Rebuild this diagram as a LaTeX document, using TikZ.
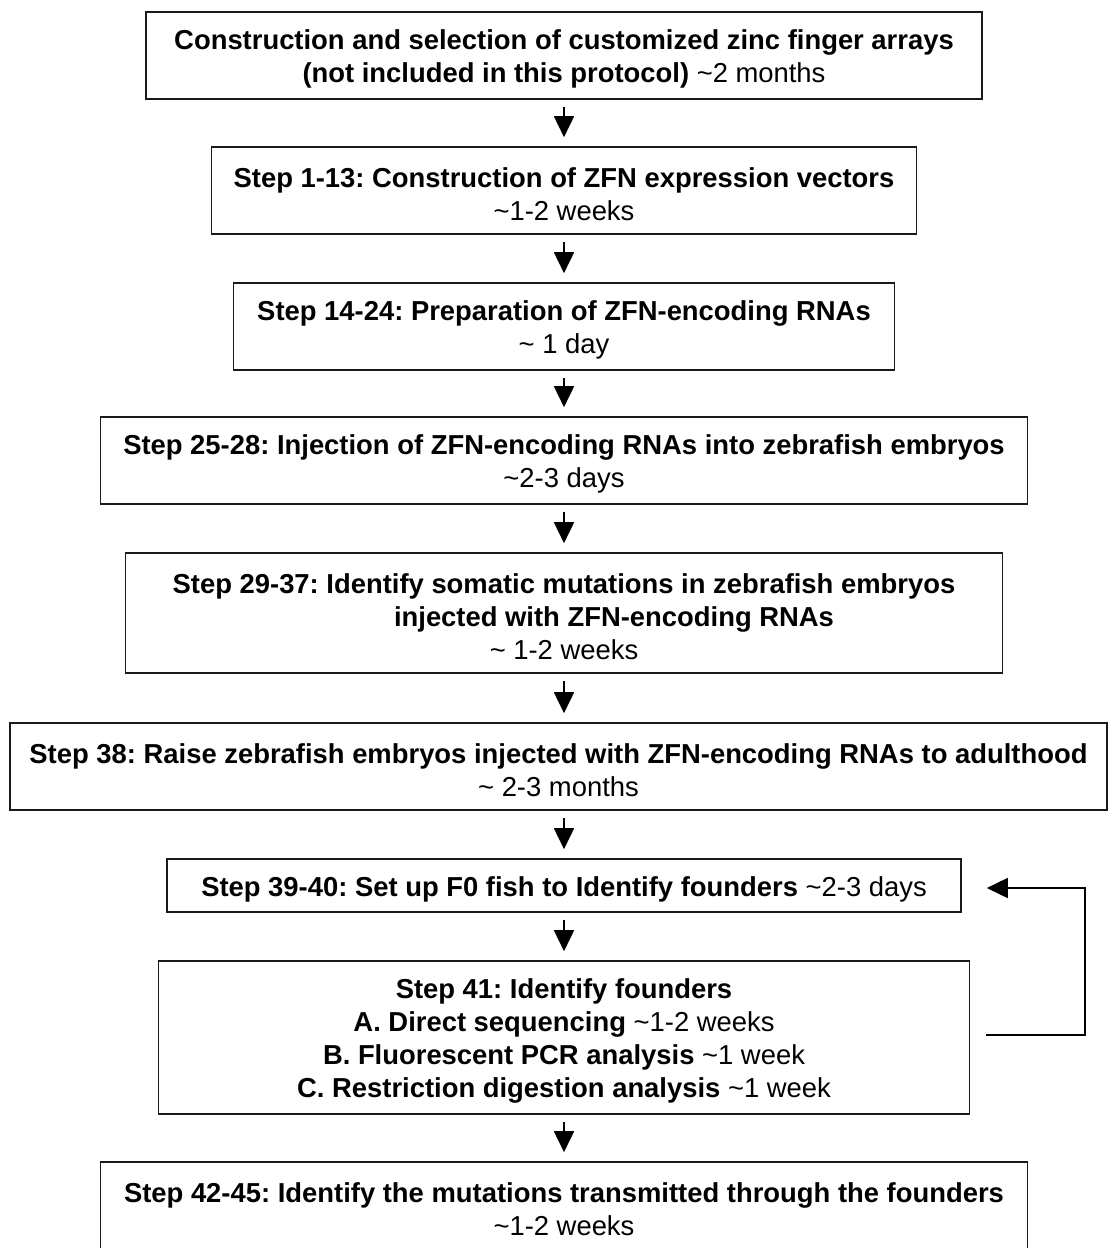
\documentclass[tikz,border=0pt]{standalone}
\usepackage{fontspec}
\setmainfont{Liberation Sans}
\usetikzlibrary{arrows.meta}
\definecolor{boxline}{HTML}{1A1A1A}
\frenchspacing
\newcommand\stepgap{\rule{0pt}{27pt}}

\begin{document}
\begin{tikzpicture}[x=1pt,y=-1pt,font=\fontsize{27.4}{33}\selectfont,
  stepbox/.style={draw=boxline,line width=1.6pt,align=center,inner sep=0pt},
  flow/.style={line width=1.6pt,-{Triangle[length=21pt,width=20pt]}}]
\useasboundingbox (0,0) rectangle (1109,1248);
\node[stepbox,minimum width=836,minimum height=87] (s0) at (564,55.5)
  {\stepgap\textbf{Construction and selection of customized zinc finger arrays}\\
   \textbf{(not included in this protocol)} \textasciitilde2 months};
\node[stepbox,minimum width=705,minimum height=87] (s1) at (564,190.5)
  {\stepgap\textbf{Step 1-13: Construction of ZFN expression vectors}\\
   \textasciitilde1-2 weeks};
\node[stepbox,minimum width=661,minimum height=87] (s2) at (564,326.5)
  {\stepgap\textbf{Step 14-24: Preparation of ZFN-encoding RNAs}\\
   \textasciitilde{} 1 day};
\node[stepbox,minimum width=927,minimum height=87] (s3) at (564,460.5)
  {\stepgap\textbf{Step 25-28: Injection of ZFN-encoding RNAs into zebrafish embryos}\\
   \textasciitilde2-3 days};
\node[stepbox,minimum width=877,minimum height=120] (s4) at (564,613)
  {\stepgap\textbf{Step 29-37: Identify somatic mutations in zebrafish embryos}\\
   \hspace*{100pt}\textbf{injected with ZFN-encoding RNAs}\\
   \textasciitilde{} 1-2 weeks};
\node[stepbox,minimum width=1097,minimum height=87] (s5) at (558.5,766.5)
  {\stepgap\textbf{Step 38: Raise zebrafish embryos injected with ZFN-encoding RNAs to adulthood}\\
   \textasciitilde{} 2-3 months};
\node[stepbox,minimum width=794,minimum height=53] (s6) at (564,885.5)
  {\stepgap\textbf{Step 39-40: Set up F0 fish to Identify founders} \textasciitilde2-3 days};
\node[stepbox,minimum width=811,minimum height=153] (s7) at (564,1037.5)
  {\stepgap\textbf{Step 41: Identify founders}\\
   \textbf{A. Direct sequencing} \textasciitilde1-2 weeks\\
   \textbf{B. Fluorescent PCR analysis} \textasciitilde1 week\\
   \textbf{C. Restriction digestion analysis} \textasciitilde1 week};
\node[stepbox,minimum width=927,minimum height=87] (s8) at (564,1205.5)
  {\stepgap\textbf{Step 42-45: Identify the mutations transmitted through the founders}\\
   \textasciitilde1-2 weeks};
\draw[flow,shorten <=7pt,shorten >=9pt] (s0.south) -- (s1.north);
\draw[flow,shorten <=7pt,shorten >=9pt] (s1.south) -- (s2.north);
\draw[flow,shorten <=7pt,shorten >=9pt] (s2.south) -- (s3.north);
\draw[flow,shorten <=7pt,shorten >=9pt] (s3.south) -- (s4.north);
\draw[flow,shorten <=7pt,shorten >=9pt] (s4.south) -- (s4.south |- s5.north);
\draw[flow,shorten <=7pt,shorten >=9pt] (s4.south |- s5.south) -- (s6.north);
\draw[flow,shorten <=7pt,shorten >=9pt] (s6.south) -- (s7.north);
\draw[flow,shorten <=7pt,shorten >=9pt] (s7.south) -- (s8.north);
\coordinate (loop) at (1085,1035);
\draw[flow] ([xshift=16pt,yshift=2.5pt]s7.east) -- (loop) |- ([xshift=25pt,yshift=-2.5pt]s6.east);
\end{tikzpicture}
\end{document}
